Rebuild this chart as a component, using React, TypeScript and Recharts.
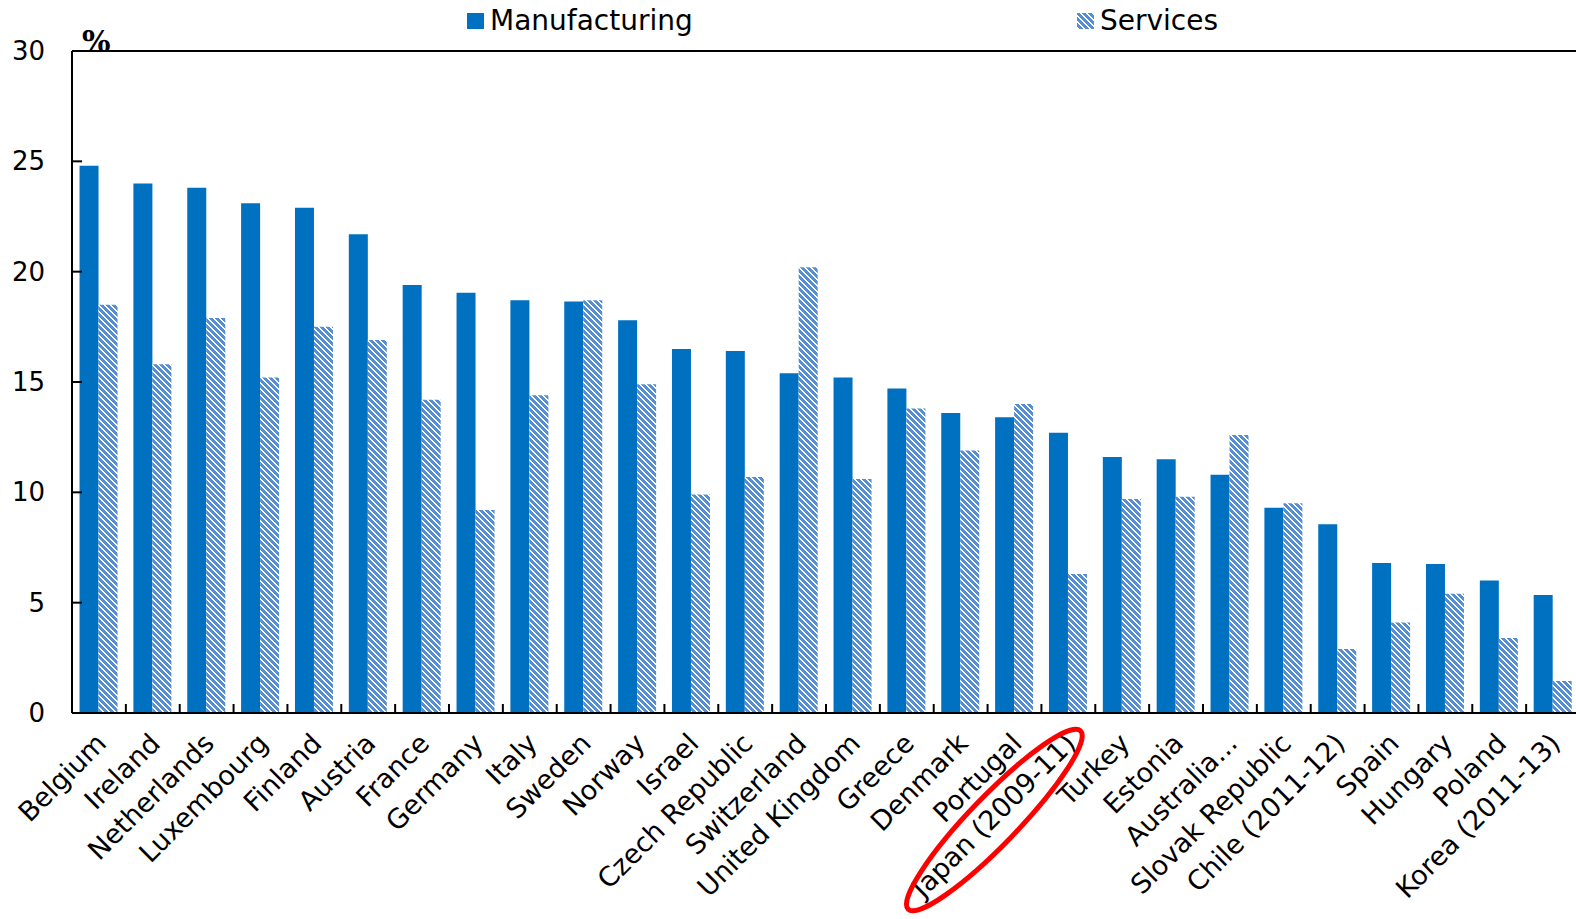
import React from "react";
import { BarChart, Bar, XAxis, YAxis, ReferenceLine } from "recharts";

const countries = [
  "Belgium", "Ireland", "Netherlands", "Luxembourg", "Finland", "Austria", "France",
  "Germany", "Italy", "Sweden", "Norway", "Israel", "Czech Republic", "Switzerland",
  "United Kingdom", "Greece", "Denmark", "Portugal", "Japan (2009-11)", "Turkey",
  "Estonia", "Australia...", "Slovak Republic", "Chile (2011-12)", "Spain", "Hungary",
  "Poland", "Korea (2011-13)",
];

const manufacturing = [
  24.8, 24.0, 23.8, 23.1, 22.9, 21.7, 19.4, 19.05, 18.7, 18.65, 17.8, 16.5, 16.4, 15.4,
  15.2, 14.7, 13.6, 13.4, 12.7, 11.6, 11.5, 10.8, 9.3, 8.55, 6.8, 6.75, 6.0, 5.35,
];

const services = [
  18.5, 15.8, 17.9, 15.2, 17.5, 16.9, 14.2, 9.2, 14.4, 18.7, 14.9, 9.9, 10.7, 20.2,
  10.6, 13.8, 11.9, 14.0, 6.3, 9.7, 9.8, 12.6, 9.5, 2.9, 4.1, 5.4, 3.4, 1.45,
];

const yTicks = [0, 5, 10, 15, 20, 25, 30];
const highlighted = "Japan (2009-11)";

const data = countries.map((c, i) => ({
  country: c,
  manufacturing: manufacturing[i],
  services: services[i],
}));

const FONT = "'DejaVu Sans', sans-serif";
const MANU = "#0070c0";
const SERV = "#558ed5";
const BAND = 1508 / countries.length;

function PatternDef({ id }: { id: string }) {
  return (
    <pattern id={id} width="6" height="6" patternUnits="userSpaceOnUse">
      <rect width="6" height="6" fill="#ffffff" />
      <path d="M0,0 L2,0 L6,4 L6,6 L4,6 L0,2 Z" fill={SERV} shapeRendering="crispEdges" />
      <path d="M4,0 L6,0 L6,2 Z" fill={SERV} shapeRendering="crispEdges" />
      <path d="M0,4 L2,6 L0,6 Z" fill={SERV} shapeRendering="crispEdges" />
    </pattern>
  );
}

function XTick(props: any) {
  const { x, y, payload } = props;
  const label = payload.value as string;
  const tx = x + 9;
  const ty = y + 32;
  return (
    <g>
      <line x1={x + BAND / 2} x2={x + BAND / 2} y1={y} y2={y - 9} stroke="#000" strokeWidth={2} />
      <text
        x={tx}
        y={ty}
        transform={`rotate(-45 ${tx} ${ty})`}
        textAnchor="end"
        fontFamily={FONT}
        fontSize={27}
        fill="#000"
      >
        {label}
      </text>
      {label === highlighted && (
        <ellipse
          cx={x - 74}
          cy={y + 107}
          rx={124}
          ry={24}
          transform={`rotate(-46 ${x - 74} ${y + 107})`}
          fill="none"
          stroke="#ff0000"
          strokeWidth={5}
        />
      )}
    </g>
  );
}

function YTick(props: any) {
  const { x, y, payload } = props;
  return (
    <g>
      <line x1={x} x2={x + 10} y1={y} y2={y} stroke="#000" strokeWidth={2} />
      <text x={x - 27} y={y + 9} textAnchor="end" fontFamily={FONT} fontSize={26} fill="#000">
        {payload.value}
      </text>
    </g>
  );
}

export default function App() {
  return (
    <div style={{ position: "absolute", left: 0, top: 0, width: 1576, height: 919, overflow: "hidden", background: "#fff" }}>
      <BarChart
        width={1580}
        height={919}
        data={data}
        margin={{ top: 51, right: 0, bottom: 0, left: 0 }}
        barCategoryGap="14%"
        barGap={0}
      >
        <defs>
          <PatternDef id="svcPat" />
        </defs>
        <XAxis
          dataKey="country"
          interval={0}
          height={206}
          tickSize={0}
          tickMargin={0}
          tick={<XTick />}
          axisLine={{ stroke: "#000", strokeWidth: 2 }}
          tickLine={false}
        />
        <YAxis
          width={72}
          domain={[0, 30]}
          ticks={yTicks}
          tickSize={0}
          tickMargin={0}
          tick={<YTick />}
          axisLine={{ stroke: "#000", strokeWidth: 2 }}
          tickLine={false}
          allowDataOverflow
        />
        <ReferenceLine y={30} stroke="#000" strokeWidth={2} />
        <Bar dataKey="manufacturing" fill={MANU} isAnimationActive={false} />
        <Bar dataKey="services" fill="url(#svcPat)" isAnimationActive={false} />
        <text x={82} y={52} fontFamily="'DejaVu Serif', serif" fontSize={30} fontWeight="bold" fill="#000">
          %
        </text>
      </BarChart>
      <div style={{ position: "absolute", left: 467, top: 4, display: "flex", alignItems: "center", fontFamily: FONT, fontSize: 28, color: "#000" }}>
        <span style={{ display: "inline-block", width: 17, height: 16, background: MANU, marginRight: 6 }} />
        <span>Manufacturing</span>
      </div>
      <div style={{ position: "absolute", left: 1077, top: 4, display: "flex", alignItems: "center", fontFamily: FONT, fontSize: 28, color: "#000" }}>
        <svg width={17} height={16} style={{ marginRight: 6 }}>
          <defs>
            <PatternDef id="svcPatLegend" />
          </defs>
          <rect width={17} height={16} fill="url(#svcPatLegend)" />
        </svg>
        <span>Services</span>
      </div>
    </div>
  );
}
